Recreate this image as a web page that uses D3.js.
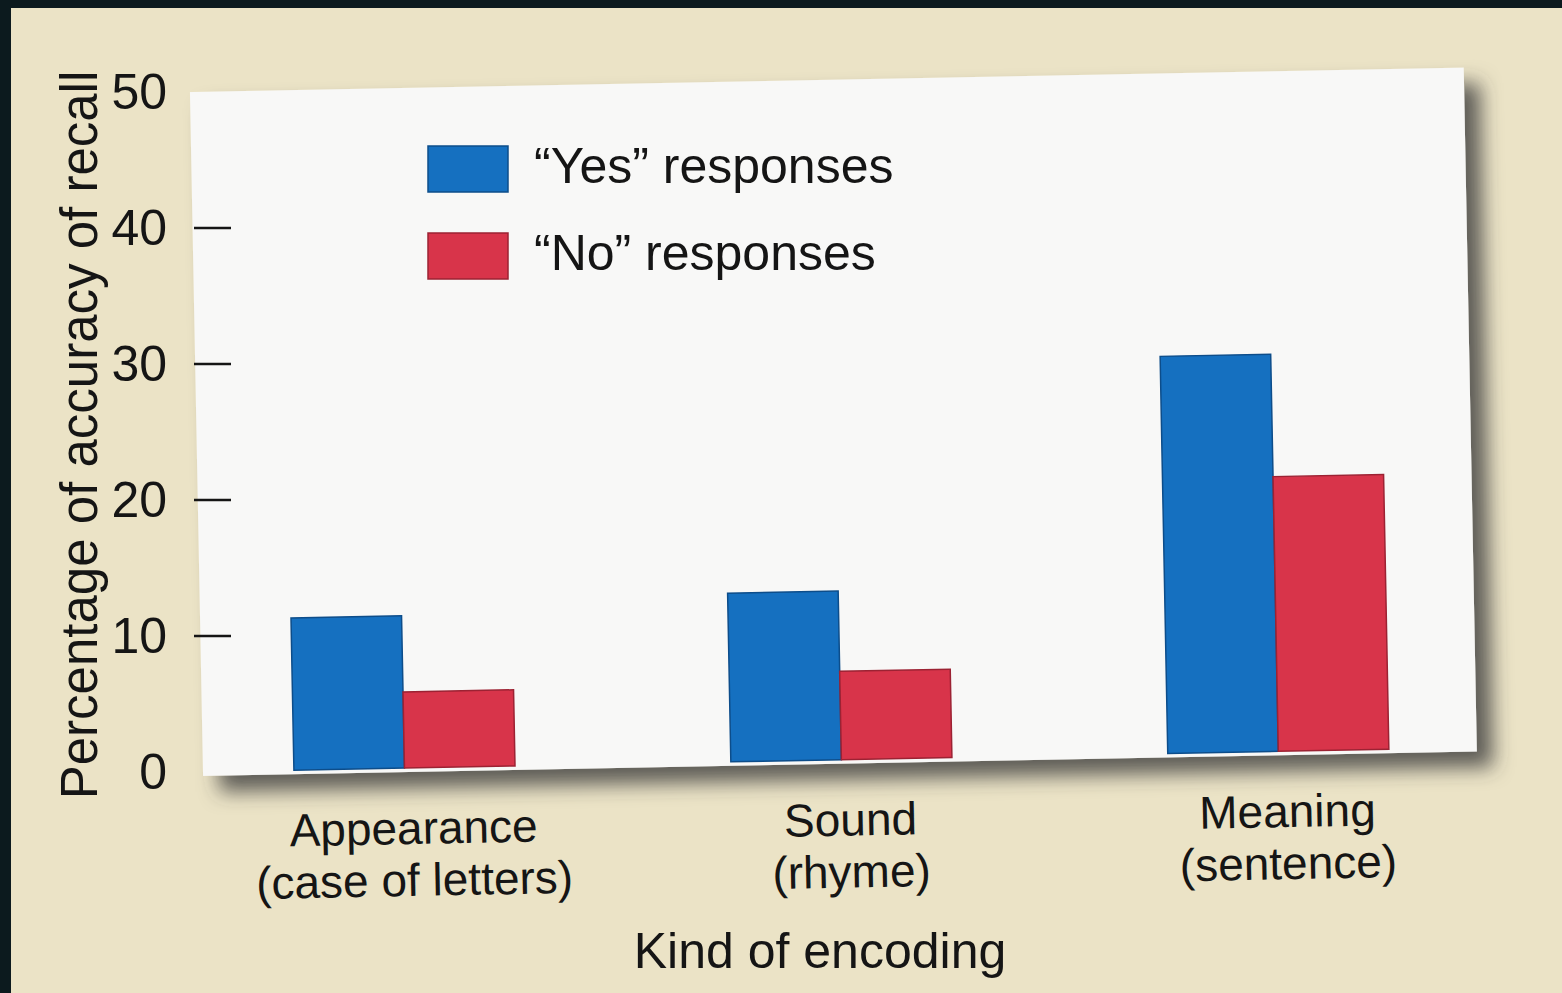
<!DOCTYPE html>
<html>
<head>
<meta charset="utf-8">
<script src="https://cdn.jsdelivr.net/npm/d3@7"></script>
<style>
  html, body { margin: 0; padding: 0; background: #0c1a1e; }
  svg { display: block; }
  text { font-family: "Liberation Sans", Arial, Helvetica, sans-serif; fill: #151515; }
</style>
</head>
<body>
<svg id="chart" width="1562" height="993"></svg>
<script>
// ---- data ----
const categories = ["Appearance", "Sound", "Meaning"];
const categorySubLabels = ["(case of letters)", "(rhyme)", "(sentence)"];
const seriesNames = ["\u201CYes\u201D responses", "\u201CNo\u201D responses"];
const yesValues = [11.2, 12.4, 29.2];
const noValues = [5.6, 6.5, 20.2];
const yTicks = [0, 10, 20, 30, 40, 50];
const yTickMarks = [10, 20, 30, 40];
const xTitle = "Kind of encoding";
const yTitle = "Percentage of accuracy of recall";

const colors = ["#1570c0", "#d8344a"];
const strokes = ["#0d4d8a", "#9c2233"];

const svg = d3.select("#chart");
const W = 1562, H = 993;

// background
svg.append("rect").attr("x", 0).attr("y", 0).attr("width", W).attr("height", H).attr("fill", "#0c1a1e");
svg.append("rect").attr("x", 11).attr("y", 8).attr("width", W - 11).attr("height", H - 8).attr("fill", "#ebe3c6");

// scales
const y = d3.scaleLinear().domain([0, 50]).range([772, 92]);
const x0 = d3.scaleBand().domain(categories).range([186, 1497]).paddingInner(0.494).paddingOuter(0.247);
const x1 = d3.scaleBand().domain([0, 1]).range([0, x0.bandwidth()]);

// shadow filter
const defs = svg.append("defs");
const f = defs.append("filter").attr("id", "shadow").attr("x", "-5%").attr("y", "-5%").attr("width", "115%").attr("height", "125%");
f.append("feDropShadow").attr("dx", 16).attr("dy", 16).attr("stdDeviation", 10)
  .attr("flood-color", "#3a3a3a").attr("flood-opacity", 0.8);

// rotated panel group
const g = svg.append("g").attr("transform", "rotate(-1.1, 200, 772)");
g.append("rect")
  .attr("x", 203).attr("y", y(50))
  .attr("width", 1477 - 203).attr("height", 776 - y(50))
  .attr("fill", "#f8f8f7")
  .attr("filter", "url(#shadow)");

const data = categories.map((c, i) => ({ cat: c, vals: [yesValues[i], noValues[i]] }));
const groups = g.selectAll("g.grp").data(data).join("g")
  .attr("class", "grp")
  .attr("transform", d => `translate(${x0(d.cat)},0)`);
groups.selectAll("rect").data(d => d.vals.map((v, k) => ({ v, k }))).join("rect")
  .attr("x", d => x1(d.k))
  .attr("width", x1.bandwidth())
  .attr("y", d => y(d.v))
  .attr("height", d => y(0) - y(d.v))
  .attr("fill", d => colors[d.k])
  .attr("stroke", d => strokes[d.k])
  .attr("stroke-width", 1.5);

// category labels (rotated with panel)
const labs = g.selectAll("g.lab").data(categories).join("g")
  .attr("class", "lab")
  .attr("transform", c => `translate(${x0(c) + x0.bandwidth() / 2 + 8},0)`);
labs.append("text").attr("y", 848).attr("text-anchor", "middle")
  .attr("font-size", 46).text(c => c);
labs.append("text").attr("y", 900).attr("text-anchor", "middle")
  .attr("font-size", 46).text((c, i) => categorySubLabels[i]);

// y axis (not rotated)
const axis = svg.append("g");
axis.selectAll("text.tick").data(yTicks).join("text")
  .attr("class", "tick")
  .attr("x", 167).attr("y", d => y(d))
  .attr("text-anchor", "end").attr("dominant-baseline", "central")
  .attr("font-size", 50)
  .text(d => d);
axis.selectAll("line.tick").data(yTickMarks).join("line")
  .attr("class", "tick")
  .attr("x1", 194).attr("x2", 231)
  .attr("y1", d => y(d)).attr("y2", d => y(d))
  .attr("stroke", "#151515").attr("stroke-width", 2.5);

svg.append("text")
  .attr("transform", "translate(97,435) rotate(-90)")
  .attr("text-anchor", "middle").attr("font-size", 51)
  .text(yTitle);

svg.append("text")
  .attr("x", 820).attr("y", 968)
  .attr("text-anchor", "middle").attr("font-size", 50)
  .text(xTitle);

// legend
const leg = svg.append("g");
const legItems = leg.selectAll("g").data(seriesNames).join("g")
  .attr("transform", (d, i) => `translate(428,${146 + i * 87})`);
legItems.append("rect").attr("width", 80).attr("height", 46)
  .attr("fill", (d, i) => colors[i]).attr("stroke", (d, i) => strokes[i]).attr("stroke-width", 1.5);
legItems.append("text").attr("x", 106).attr("y", 37)
  .attr("font-size", 50).text(d => d);
</script>
</body>
</html>
